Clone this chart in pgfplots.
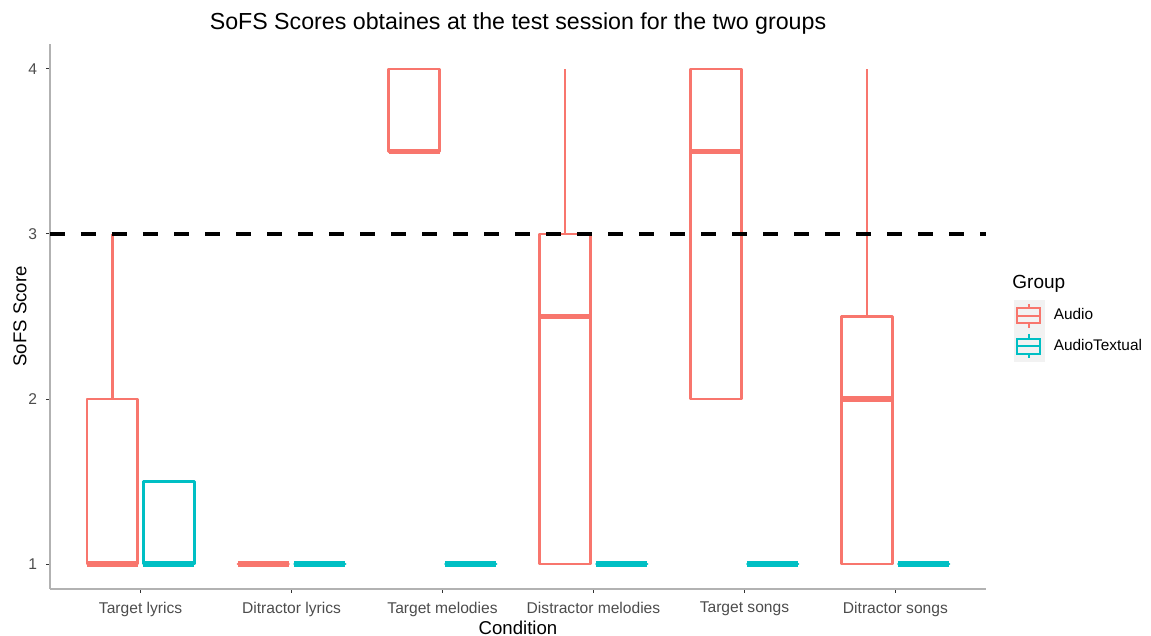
\documentclass[border=0pt]{standalone}
\usepackage{fontspec}
\setmainfont{Liberation Sans}
\usepackage{pgfplots}
\pgfplotsset{compat=1.18}
\usepgfplotslibrary{statistics}

\definecolor{audio}{HTML}{F8766D}
\definecolor{atext}{HTML}{00BFC4}
\definecolor{keybg}{HTML}{F2F2F2}

\pgfplotsset{
  gbox/.style={line width=1.25pt, line join=round,
    boxplot/draw direction=y,
    boxplot/whisker extend=0,
    boxplot/every median/.style={line width=2.8pt}},
}

\begin{document}
\begin{tikzpicture}
\begin{axis}[
    at={(0,0)}, anchor=south west,
    scale only axis, width=468pt, height=272.5pt,
    xmin=0.4, xmax=6.6, ymin=0.85, ymax=4.15,
    clip mode=individual,
    axis lines*=left,
    axis line style={black!30, line width=1pt},
    xtick={1,2,3,4,5,6},
    xticklabels={Target lyrics, Ditractor lyrics, Target melodies, Distractor melodies, Target songs, Ditractor songs},
    ytick={1,2,3,4},
    tick align=outside, major tick length=2pt,
    tick style={black!80, line width=0.5pt},
    ticklabel style={font=\fontsize{7.8}{9}\selectfont, text=black!70},
    /pgf/number format/assume math mode=true,
    xticklabel style={anchor=north, yshift=-1pt},
    yticklabel style={anchor=east, xshift=-1pt},
    xlabel={Condition},
    xlabel style={font=\fontsize{9.3}{11}\selectfont, at={(axis description cs:0.5,0)}, anchor=center, yshift=-19.5pt},
    ylabel={SoFS Score},
    ylabel style={font=\fontsize{9.3}{11}\selectfont, at={(axis description cs:0,0.5)}, anchor=center, rotate=0, yshift=15pt},
    legend style={at={(axis description cs:1.0299,0.530)}, anchor=north west,
      draw=none, fill=none, inner sep=0pt, outer sep=0pt, row sep=0pt, column sep=4.5pt,
      font=\fontsize{7.7}{9}\selectfont, nodes={inner sep=0pt, outer sep=0pt},
      column 2/.style={nodes={yshift=-1.5pt}}},
    legend cell align=left,
]
\addlegendimage{legend image code/.code={
  \fill[keybg] (0pt,-7.5pt) rectangle (15pt,7.5pt);
  \draw[audio, line width=1pt] (1.5pt,-3.6pt) rectangle (13pt,3.6pt);
  \draw[audio, line width=1pt] (1.5pt,0pt) -- (13pt,0pt);
  \draw[audio, line width=1pt] (7.25pt,3.6pt) -- (7.25pt,6pt) (7.25pt,-3.6pt) -- (7.25pt,-6pt);
}}
\addlegendentry{Audio}
\addlegendimage{legend image code/.code={
  \fill[keybg] (0pt,-7.5pt) rectangle (15pt,7.5pt);
  \draw[atext, line width=1pt] (1.5pt,-3.6pt) rectangle (13pt,3.6pt);
  \draw[atext, line width=1pt] (1.5pt,0pt) -- (13pt,0pt);
  \draw[atext, line width=1pt] (7.25pt,3.6pt) -- (7.25pt,6pt) (7.25pt,-3.6pt) -- (7.25pt,-6pt);
}}
\addlegendentry{AudioTextual}

% Audio group
\addplot[audio, gbox, boxplot prepared={draw position=0.8125, box extend=0.3375,
  lower whisker=1, lower quartile=1, median=1, upper quartile=2, upper whisker=3}] coordinates {};
\addplot[audio, gbox, boxplot prepared={draw position=1.8125, box extend=0.3375,
  lower whisker=1, lower quartile=1, median=1, upper quartile=1, upper whisker=1}] coordinates {};
\addplot[audio, gbox, boxplot prepared={draw position=2.8125, box extend=0.3375,
  lower whisker=3.5, lower quartile=3.5, median=3.5, upper quartile=4, upper whisker=4}] coordinates {};
\addplot[audio, gbox, boxplot prepared={draw position=3.8125, box extend=0.3375,
  lower whisker=1, lower quartile=1, median=2.5, upper quartile=3, upper whisker=4}] coordinates {};
\addplot[audio, gbox, boxplot prepared={draw position=4.8125, box extend=0.3375,
  lower whisker=2, lower quartile=2, median=3.5, upper quartile=4, upper whisker=4}] coordinates {};
\addplot[audio, gbox, boxplot prepared={draw position=5.8125, box extend=0.3375,
  lower whisker=1, lower quartile=1, median=2, upper quartile=2.5, upper whisker=4}] coordinates {};

% AudioTextual group
\addplot[atext, gbox, boxplot prepared={draw position=1.1875, box extend=0.3375,
  lower whisker=1, lower quartile=1, median=1, upper quartile=1.5, upper whisker=1.5}] coordinates {};
\addplot[atext, gbox, boxplot prepared={draw position=2.1875, box extend=0.3375,
  lower whisker=1, lower quartile=1, median=1, upper quartile=1, upper whisker=1}] coordinates {};
\addplot[atext, gbox, boxplot prepared={draw position=3.1875, box extend=0.3375,
  lower whisker=1, lower quartile=1, median=1, upper quartile=1, upper whisker=1}] coordinates {};
\addplot[atext, gbox, boxplot prepared={draw position=4.1875, box extend=0.3375,
  lower whisker=1, lower quartile=1, median=1, upper quartile=1, upper whisker=1}] coordinates {};
\addplot[atext, gbox, boxplot prepared={draw position=5.1875, box extend=0.3375,
  lower whisker=1, lower quartile=1, median=1, upper quartile=1, upper whisker=1}] coordinates {};
\addplot[atext, gbox, boxplot prepared={draw position=6.1875, box extend=0.3375,
  lower whisker=1, lower quartile=1, median=1, upper quartile=1, upper whisker=1}] coordinates {};

% threshold line
\addplot[black, line width=2pt, dash pattern=on 7.5pt off 8pt] coordinates {(0.4,3) (6.6,3)};

\node[anchor=base, font=\fontsize{11.6}{14}\selectfont] at (axis description cs:0.5,1) [yshift=7pt] {SoFS Scores obtaines at the test session for the two groups};
\node[anchor=west, font=\fontsize{9.5}{11}\selectfont, inner sep=0pt] at (axis description cs:1.0278,0.5596) {Group};
\end{axis}
\pgfresetboundingbox
\path (-25pt,-23.5pt) rectangle (550.5pt,294.5pt);
\end{tikzpicture}
\end{document}
